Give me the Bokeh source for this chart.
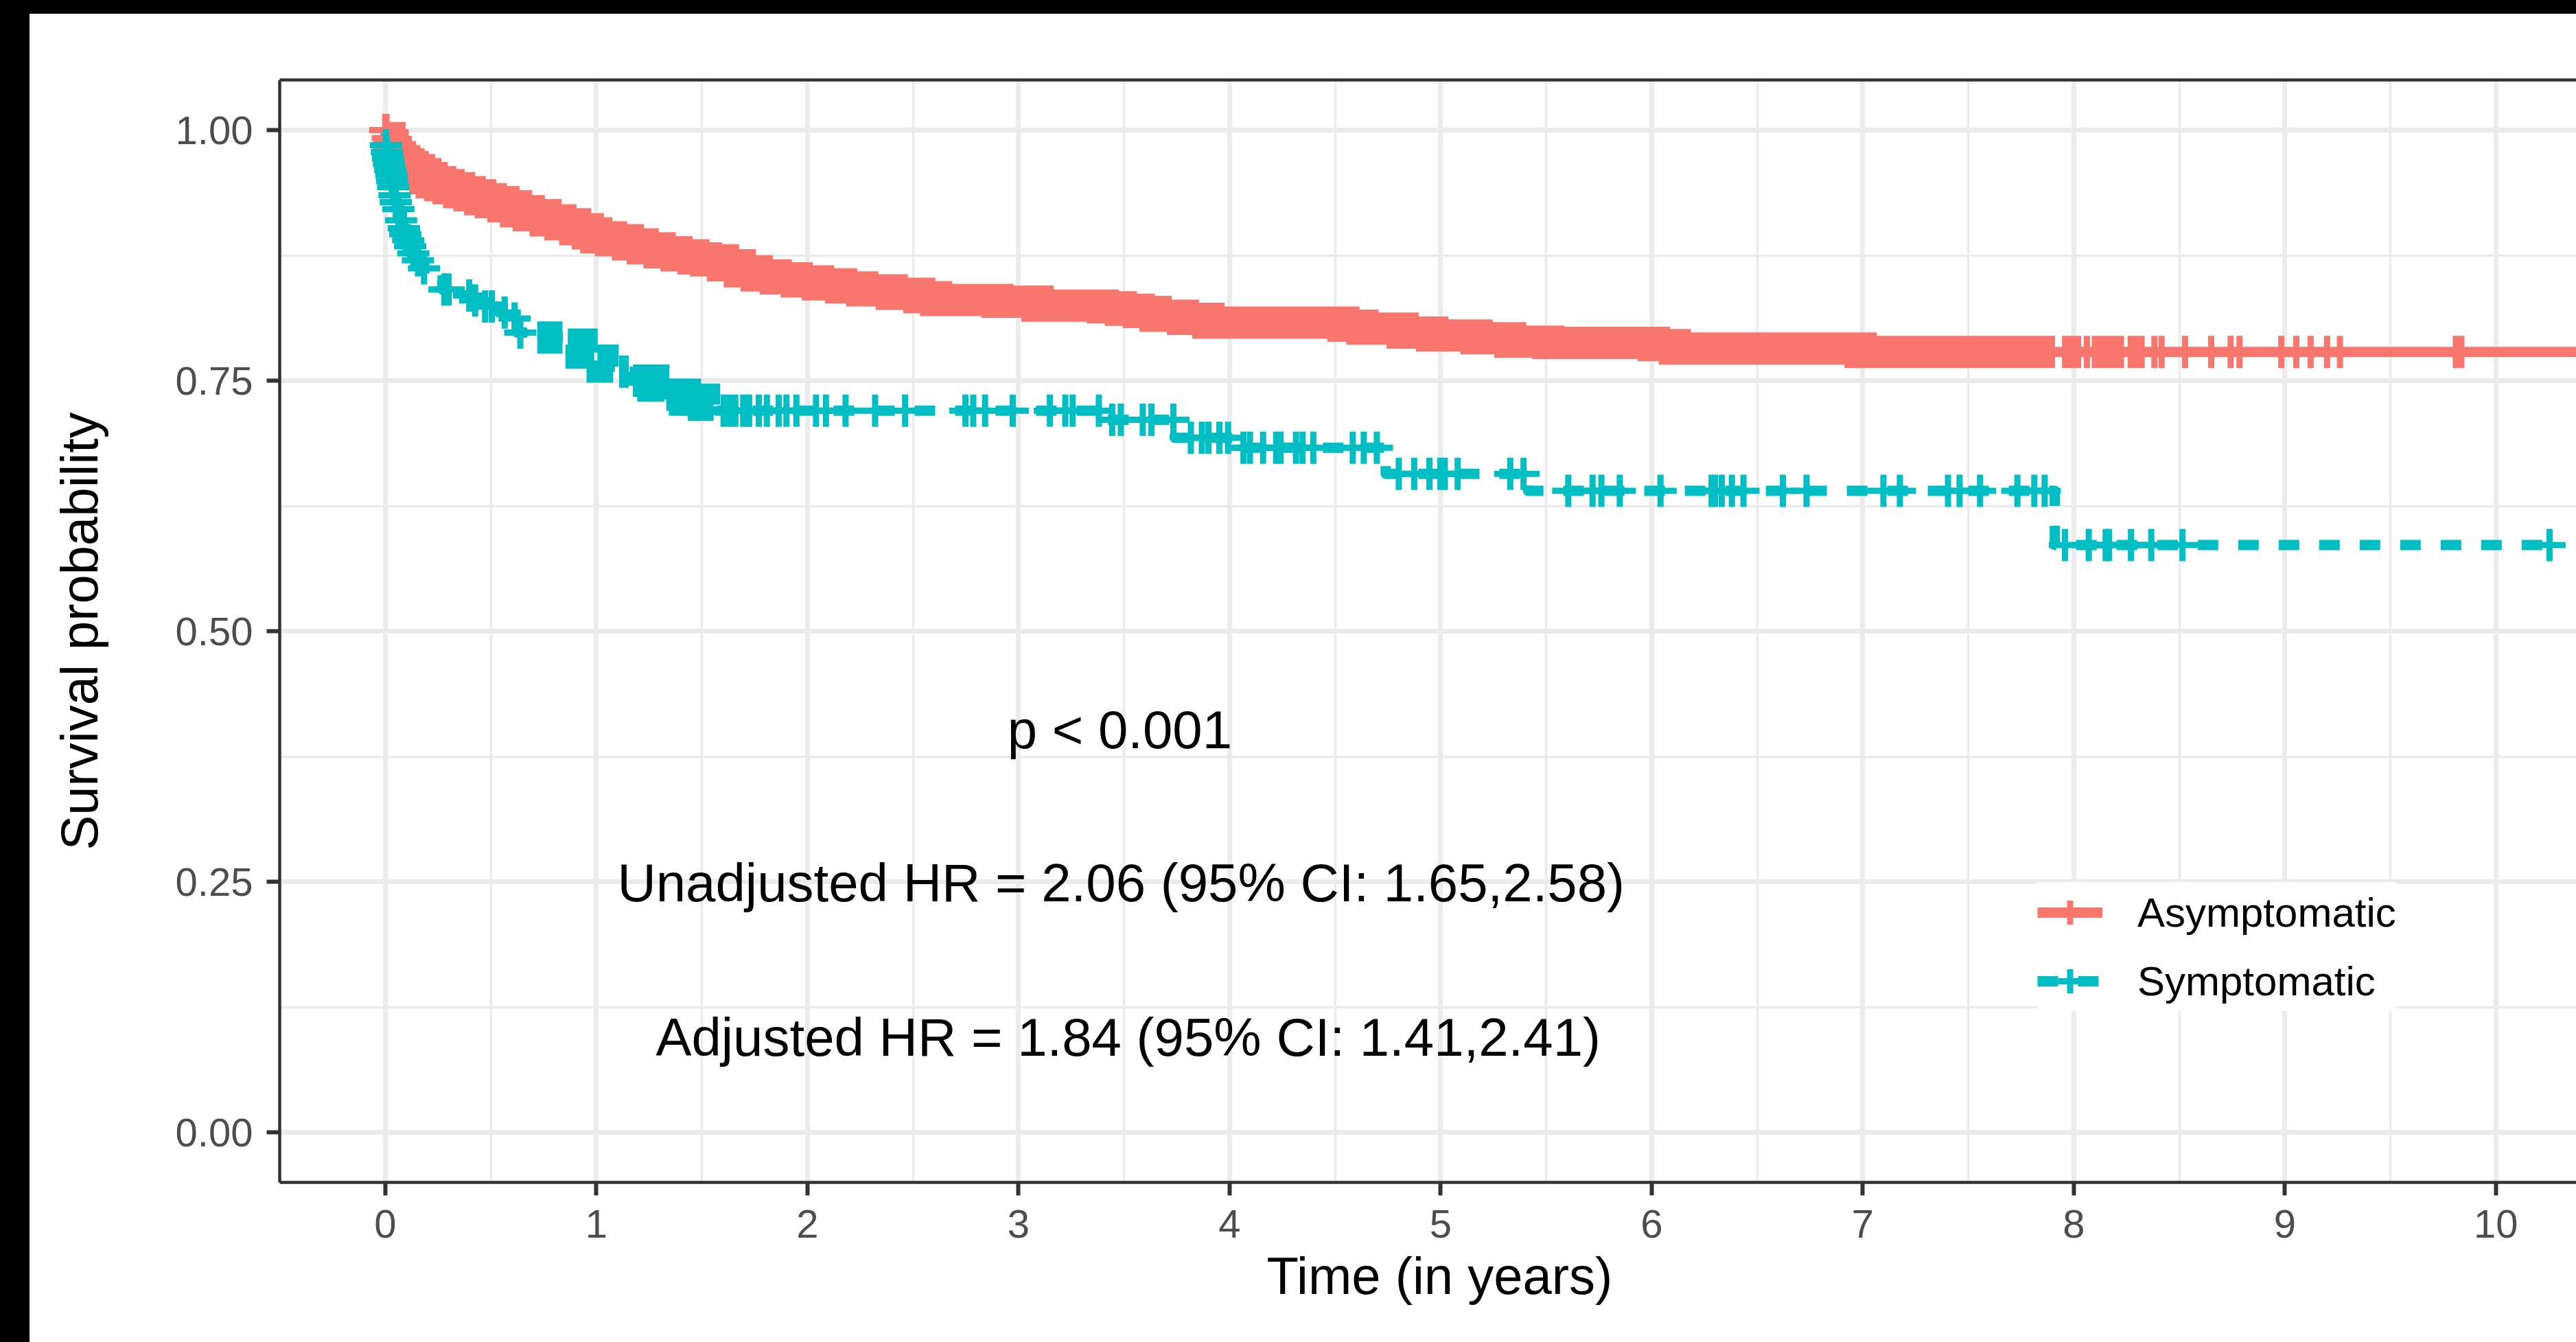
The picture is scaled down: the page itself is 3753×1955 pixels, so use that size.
import numpy as np
from bokeh.plotting import figure
from bokeh.models import (Range1d, FixedTicker, LinearAxis, Label, Legend,
                          LegendItem, Spacer, Title)
from bokeh.layouts import column, row
from bokeh.embed import file_html
from bokeh.resources import INLINE

# ---------------- data ----------------
groups = ["Asymptomatic", "Symptomatic"]

# Asymptomatic: Kaplan-Meier steps (time in years, survival after the step)
asym_time = [0.0, 0.01, 0.02, 0.035, 0.05, 0.07, 0.09, 0.11, 0.13, 0.16, 0.19,
             0.22, 0.26, 0.30, 0.35, 0.40, 0.45, 0.50, 0.56, 0.62, 0.68, 0.76,
             0.83, 0.90, 0.96, 1.00, 1.07, 1.15, 1.22, 1.30, 1.38, 1.46, 1.52,
             1.60, 1.68, 1.76, 1.85, 1.95, 2.05, 2.16, 2.26, 2.40, 2.53, 2.61,
             2.90, 3.09, 3.40, 3.485, 3.57, 3.65, 3.78, 3.90, 4.54, 4.63, 4.82,
             4.96, 5.17, 5.33, 5.51, 6.01, 6.11, 6.99]
asym_surv = [1.0, 0.992, 0.985, 0.978, 0.973, 0.969, 0.966, 0.963, 0.960, 0.956,
             0.952, 0.948, 0.945, 0.942, 0.938, 0.935, 0.931, 0.928, 0.924, 0.919,
             0.915, 0.910, 0.906, 0.901, 0.897, 0.893, 0.890, 0.886, 0.882, 0.878,
             0.875, 0.872, 0.870, 0.865, 0.859, 0.855, 0.852, 0.849, 0.846, 0.843,
             0.840, 0.8367, 0.8333, 0.8304, 0.8288, 0.8249, 0.8231, 0.8208, 0.8185,
             0.8147, 0.8117, 0.8078, 0.8048, 0.8019, 0.7980, 0.7950, 0.7923,
             0.7889, 0.7877, 0.7855, 0.7820, 0.7786]
asym_end = 10.45
# runs of censoring marks so dense that they merge into a solid band
asym_dense = [[0.015, 7.911], [7.944, 8.035], [8.085, 8.238], [8.255, 8.336]]
# isolated censoring times
asym_censor = [0.0, 0.006, 0.012, 8.062, 8.382, 8.416, 8.527, 8.651, 8.743,
               8.785, 8.983, 9.054, 9.122, 9.200, 9.261, 9.810, 9.836]

# Symptomatic
sym_time = [0.0, 0.002, 0.006, 0.011, 0.016, 0.021, 0.027, 0.031, 0.036, 0.042,
            0.048, 0.056, 0.07, 0.082, 0.092, 0.102, 0.113, 0.125, 0.14, 0.165,
            0.22, 0.27, 0.34, 0.41, 0.45, 0.54, 0.60, 0.625, 0.70, 0.85, 0.93,
            1.00, 1.03, 1.10, 1.16, 1.27, 1.33, 1.42, 1.51, 1.57, 3.40, 3.74,
            4.03, 4.74, 5.415, 7.91]
sym_surv = [1.0, 0.985, 0.978, 0.972, 0.966, 0.960, 0.955, 0.949, 0.943, 0.935,
            0.928, 0.921, 0.910, 0.902, 0.896, 0.890, 0.884, 0.877, 0.870, 0.862,
            0.850, 0.841, 0.835, 0.830, 0.824, 0.818, 0.812, 0.798, 0.793, 0.786,
            0.778, 0.770, 0.764, 0.759, 0.750, 0.745, 0.736, 0.731, 0.726, 0.720,
            0.711, 0.693, 0.683, 0.657, 0.640, 0.586]
sym_end = 10.254
sym_dense = [[0.72, 0.84], [0.865, 0.99], [1.005, 1.08], [1.108, 1.154],
             [1.173, 1.322], [1.332, 1.556]]
sym_censor = [0.003, 0.008, 0.013, 0.018, 0.024, 0.029, 0.0325, 0.038, 0.044,
              0.05, 0.062, 0.075, 0.0885, 0.095, 0.109, 0.118, 0.133, 0.155,
              0.184, 0.28, 0.30, 0.398, 0.426, 0.473, 0.505, 0.566, 0.613, 0.64,
              1.603, 1.631, 1.659, 1.696, 1.724, 1.770, 1.808, 1.864, 1.901,
              1.948, 2.041, 2.088, 2.181, 2.321, 2.463, 2.749, 2.786, 2.842,
              2.973, 3.149, 3.222, 3.257, 3.381, 3.444, 3.485, 3.589, 3.630,
              3.734, 3.817, 3.869, 3.900, 3.952, 3.993, 4.066, 4.097, 4.159,
              4.221, 4.242, 4.315, 4.346, 4.397, 4.584, 4.636, 4.698, 4.802,
              4.875, 4.947, 4.999, 5.020, 5.081, 5.330, 5.393, 5.605, 5.720,
              5.762, 5.849, 6.042, 6.284, 6.300, 6.332, 6.380, 6.435, 6.622,
              6.734, 7.098, 7.176, 7.404, 7.459, 7.556, 7.733, 7.813, 7.862,
              7.958, 8.071, 8.151, 8.167, 8.271, 8.367, 8.515, 10.254]

x_ticks = [0, 1, 2, 3, 4, 5, 6, 7, 8, 9, 10]
x_minor = [0.5, 1.5, 2.5, 3.5, 4.5, 5.5, 6.5, 7.5, 8.5, 9.5]
y_ticks = [0.0, 0.25, 0.5, 0.75, 1.0]
y_tick_labels = ["0.00", "0.25", "0.50", "0.75", "1.00"]
y_minor = [0.125, 0.375, 0.625, 0.875]

x_title = "Time (in years)"
y_title = "Survival probability"
annot_text = ["p < 0.001",
              "Unadjusted HR = 2.06 (95% CI: 1.65,2.58)",
              "Adjusted HR = 1.84 (95% CI: 1.41,2.41)"]
annot_x = [3.48, 3.486, 3.52]
annot_y = [0.402, 0.249, 0.095]

assert len(asym_time) == len(asym_surv)
assert len(sym_time) == len(sym_surv)

# ---------------- helpers ----------------
def surv_at(times, surv, t):
    times = np.asarray(times, dtype=float)
    surv = np.asarray(surv, dtype=float)
    idx = np.searchsorted(times, np.asarray(t, dtype=float), side="right") - 1
    idx = np.clip(idx, 0, len(surv) - 1)
    return surv[idx]


def band_path(times, surv, a, b):
    inner = [t for t in times if a < t < b]
    knots = [a] + inner + [b]
    vals = [float(surv_at(times, surv, k)) for k in knots]
    xs, ys = [knots[0]], [vals[0]]
    for k in range(1, len(knots)):
        xs.append(knots[k]); ys.append(vals[k - 1])
        if k < len(knots) - 1:
            xs.append(knots[k]); ys.append(vals[k])
    return xs, ys


RED = "#F8766D"
CYAN = "#00BFC4"
FONT = "Liberation Sans"

X0, X1 = -0.5, 10.381
Y0, Y1 = -0.05, 1.05

# ---------------- figure ----------------
p = figure(width=3710, height=1935,
           x_range=Range1d(X0, X1), y_range=Range1d(Y0, Y1),
           output_backend="svg", toolbar_location=None,
           min_border_left=364, min_border_right=0,
           min_border_top=96, min_border_bottom=233,
           outline_line_color=None, background_fill_color="white",
           border_fill_color="white")

# grids
p.xgrid.ticker = FixedTicker(ticks=x_ticks, minor_ticks=x_minor)
p.ygrid.ticker = FixedTicker(ticks=y_ticks, minor_ticks=y_minor)
for g in (p.xgrid, p.ygrid):
    g.grid_line_color = "#EBEBEB"
    g.grid_line_width = 7
    g.minor_grid_line_color = "#EBEBEB"
    g.minor_grid_line_width = 3.5

# axes
xa = p.xaxis[0]
ya = p.yaxis[0]
xa.ticker = FixedTicker(ticks=x_ticks)
ya.ticker = FixedTicker(ticks=y_ticks)
ya.major_label_overrides = {t: s for t, s in zip(y_ticks, y_tick_labels)}
for ax in (xa, ya):
    ax.axis_line_color = "#333333"
    ax.axis_line_width = 4.5
    ax.major_tick_line_color = "#333333"
    ax.major_tick_line_width = 6
    ax.major_tick_out = 19
    ax.major_tick_in = 0
    ax.minor_tick_out = 0
    ax.minor_tick_in = 0
    ax.major_label_text_font = FONT
    ax.major_label_text_font_size = "58px"
    ax.major_label_text_color = "#4D4D4D"
    ax.axis_label_text_font = FONT
    ax.axis_label_text_font_size = "76px"
    ax.axis_label_text_font_style = "normal"
    ax.axis_label_text_color = "black"
ya.axis_label = y_title
ya.major_label_standoff = 20
xa.major_label_standoff = 21
ya.axis_label_standoff = 95

top_axis = LinearAxis(ticker=FixedTicker(ticks=[]), axis_line_color="#333333",
                      axis_line_width=4.5, major_tick_out=0, major_tick_in=0,
                      minor_tick_out=0, minor_tick_in=0,
                      major_label_text_font_size="0px")
p.add_layout(top_axis, "above")

# x-axis title, centred under the full (cropped) panel
p.add_layout(Title(text=x_title, align="left", offset=1438, standoff=16,
                   text_font=FONT, text_font_size="76px",
                   text_font_style="normal", text_color="black"), "below")

# survival step lines
ra_line = p.step(asym_time + [asym_end], asym_surv + [asym_surv[-1]], mode="after",
                 line_color=RED, line_width=15, line_join="round", line_cap="butt")
rs_line = p.step(sym_time + [sym_end], sym_surv + [sym_surv[-1]], mode="after",
                 line_color=CYAN, line_width=15, line_join="round", line_cap="butt",
                 line_dash="30 29")

# dense censoring runs (solid bands of marks) and isolated censor marks
MARK = 47
marks = {}
for key, times, surv, dense, cen_t, col in (
        ("a", asym_time, asym_surv, asym_dense, asym_censor, RED),
        ("s", sym_time, sym_surv, sym_dense, sym_censor, CYAN)):
    xs, ys = [], []
    for a, b in dense:
        bx, by = band_path(times, surv, a, b)
        xs.append(bx); ys.append(by)
    p.multi_line(xs, ys, line_color=col, line_width=MARK,
                 line_join="miter", line_cap="butt")
    marks[key] = p.scatter(cen_t, surv_at(times, surv, cen_t).tolist(),
                           marker="cross", size=MARK, line_color=col, line_width=9)

# annotations
for t, x, y in zip(annot_text, annot_x, annot_y):
    p.add_layout(Label(x=x, y=y, text=t, text_align="center",
                       text_baseline="middle", text_font=FONT,
                       text_font_size="78px", text_color="black"))

legend = Legend(items=[LegendItem(label=groups[0], renderers=[ra_line, marks["a"]]),
                       LegendItem(label=groups[1], renderers=[rs_line, marks["s"]])],
                location=(2561, 249), orientation="vertical",
                glyph_width=95, glyph_height=88, spacing=12, padding=0, margin=0,
                label_standoff=51, label_text_font=FONT,
                label_text_font_size="60px", label_text_color="black",
                border_line_color=None, background_fill_color="white",
                background_fill_alpha=1.0)
p.add_layout(legend)

top_strip = Spacer(width=3753, height=20, styles={"background-color": "black"})
left_strip = Spacer(width=43, height=1935, styles={"background-color": "black"})
layout = column(top_strip, row(left_strip, p))

open("out.html", "w").write(file_html(layout, INLINE))
